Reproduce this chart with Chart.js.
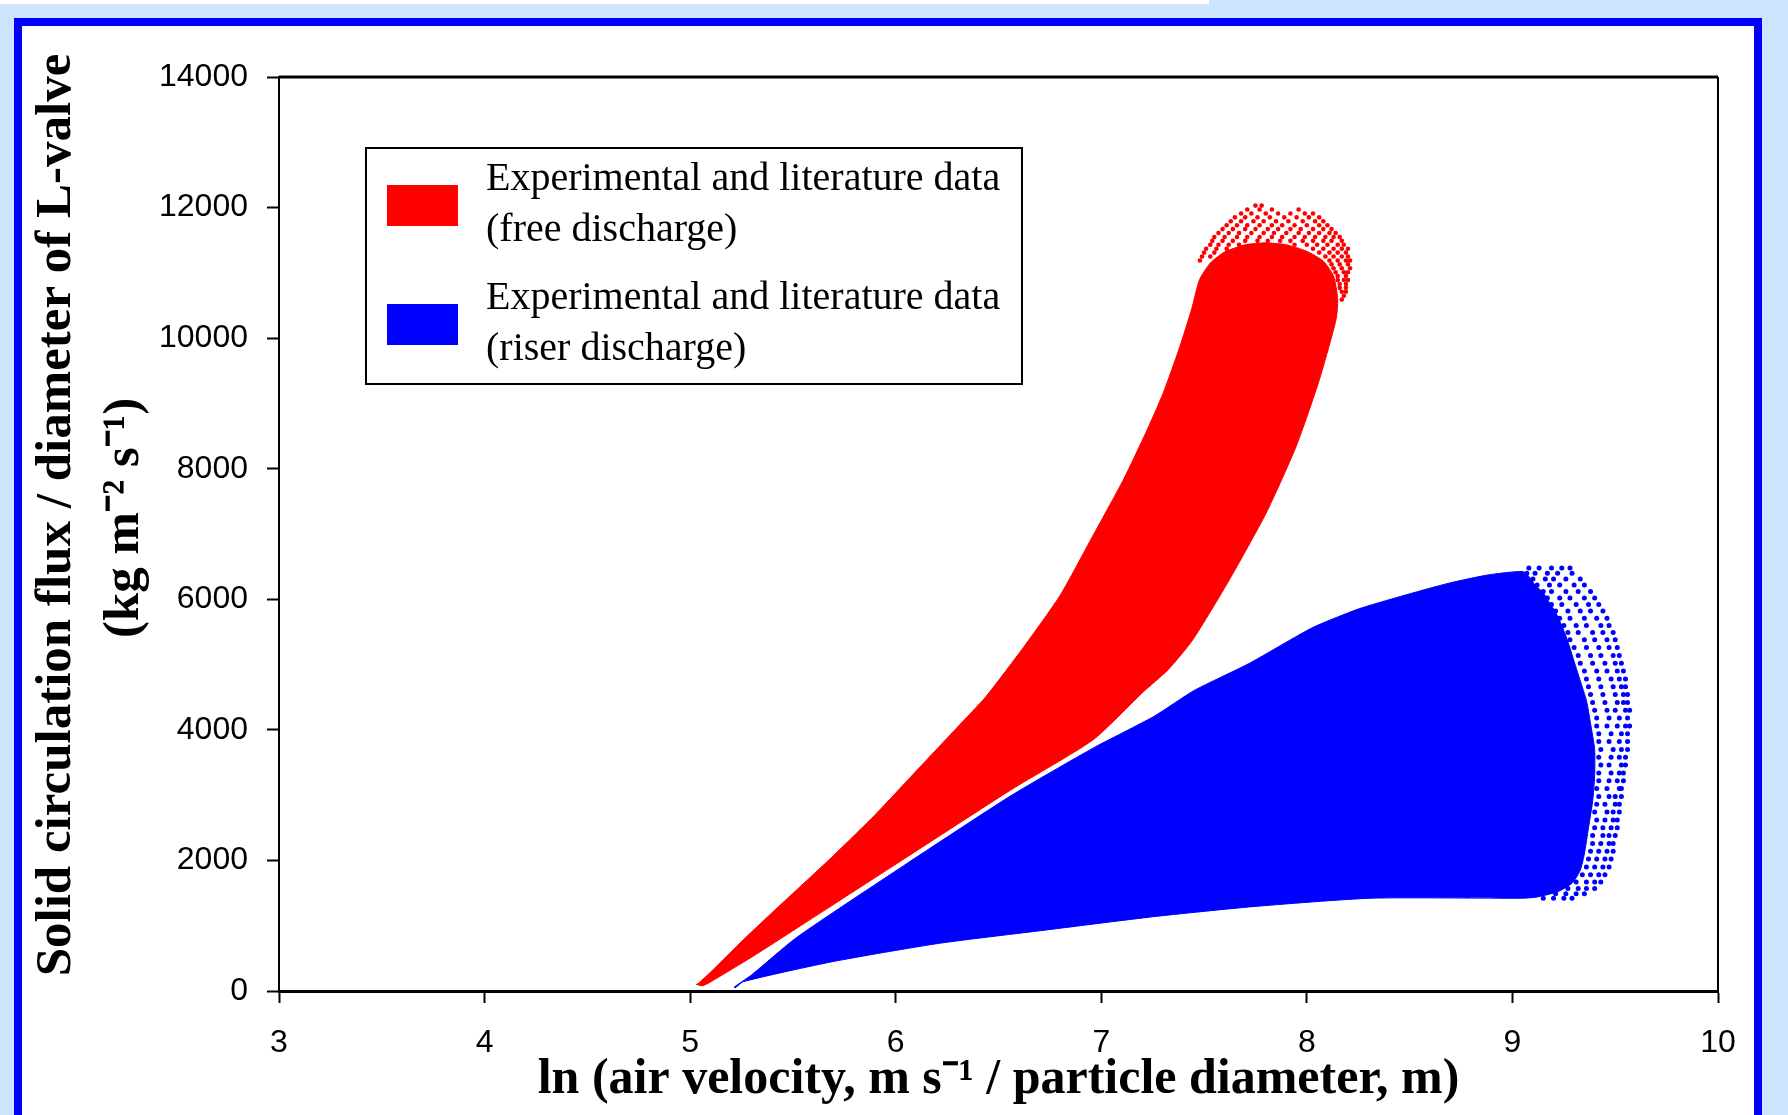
<!DOCTYPE html>
<html>
<head>
<meta charset="utf-8">
<script src="https://cdn.jsdelivr.net/npm/chart.js@4.4.1/dist/chart.umd.min.js"></script>
<style>
  html, body { margin: 0; padding: 0; width: 1788px; height: 1115px; overflow: hidden; background: #cce4fc; }
  #strip { position: absolute; left: 0; top: 0; width: 1209px; height: 4px; background: #fff; }
  #frame { position: absolute; left: 14px; top: 18px; width: 1732px; height: 1200px; background: #fff; border: 8px solid #0000ff; }
  #wrap { position: absolute; left: 0; top: 0; width: 1788px; height: 1115px; }
</style>
</head>
<body>
<div id="strip"></div>
<div id="frame"></div>
<div id="wrap"><canvas id="chart"></canvas></div>
<script>
// Outline of the dense free-discharge cloud (clockwise from the tip)
const freeX = [5.03, 5.04, 5.10, 5.258, 5.45, 5.692, 5.90, 6.109, 6.30, 6.439, 6.63, 6.80, 6.95, 7.109, 7.217, 7.30, 7.38, 7.44, 7.478,
               7.53, 7.60, 7.70, 7.80, 7.90, 8.00, 8.08, 8.13, 8.15, 8.142,
               8.061, 7.948, 7.802, 7.623, 7.445, 7.325, 7.20, 6.96, 6.56, 6.039, 5.518, 5.30, 5.101, 5.06, 5.03];
const freeY = [100, 117, 290, 782, 1350, 2058, 2700, 3400, 4040, 4510, 5300, 6060, 6920, 7840, 8553, 9150, 9850, 10450, 10897,
               11150, 11320, 11430, 11460, 11430, 11330, 11180, 10950, 10600, 10284,
               9364, 8342, 7321, 6299, 5379, 4920, 4570, 3847, 3080, 2020, 960, 520, 143, 80, 100];

// Fuzzy cap of the free-discharge cloud: [flux, [ln values]]
const freeSpeckRows = [
    [12030, [7.75, 7.78]],
    [11970, [7.71, 7.77, 7.83, 7.96]],
    [11910, [7.68, 7.73, 7.80, 7.86, 7.92, 7.99, 8.03]],
    [11850, [7.65, 7.70, 7.76, 7.82, 7.89, 7.95, 8.01, 8.06]],
    [11790, [7.63, 7.68, 7.74, 7.79, 7.85, 7.91, 7.98, 8.04, 8.08]],
    [11730, [7.61, 7.66, 7.71, 7.77, 7.83, 7.88, 7.94, 8.00, 8.06, 8.10]],
    [11670, [7.59, 7.64, 7.70, 7.75, 7.81, 7.86, 7.92, 7.97, 8.03, 8.08, 8.12]],
    [11610, [7.57, 7.62, 7.67, 7.73, 7.79, 7.84, 7.90, 7.96, 8.01, 8.06, 8.11, 8.14]],
    [11550, [7.55, 7.60, 7.66, 7.71, 7.77, 7.83, 7.88, 7.94, 7.99, 8.04, 8.09, 8.13, 8.16]],
    [11490, [7.54, 7.59, 7.64, 7.70, 7.76, 7.81, 7.87, 7.92, 7.98, 8.03, 8.08, 8.12, 8.17]],
    [11430, [7.53, 7.57, 7.62, 7.67, 7.94, 8.00, 8.05, 8.10, 8.15, 8.18]],
    [11370, [7.51, 7.56, 7.61, 8.03, 8.08, 8.13, 8.17, 8.20]],
    [11310, [7.50, 7.55, 8.06, 8.11, 8.15, 8.19]],
    [11250, [7.49, 7.53, 8.09, 8.13, 8.17, 8.20]],
    [11190, [7.48, 8.11, 8.15, 8.19, 8.21]],
    [11130, [8.12, 8.16, 8.20]],
    [11070, [8.13, 8.17, 8.21]],
    [11010, [8.14, 8.18, 8.20]],
    [10950, [8.15, 8.19]],
    [10890, [8.15, 8.18, 8.20]],
    [10830, [8.16, 8.19]],
    [10770, [8.16, 8.19]],
    [10710, [8.17, 8.19]],
    [10650, [8.18]],
    [10590, [8.17]]
];

// Outline of the dense riser-discharge cloud
const riserX = [5.214, 5.30, 5.518, 6.039, 6.56, 6.96, 7.255, 7.45, 7.721, 8.024, 8.25, 8.455, 8.693, 8.885, 9.05,
                9.08, 9.11, 9.15, 9.18, 9.21, 9.24, 9.27, 9.30, 9.33, 9.36, 9.38, 9.40, 9.40, 9.39, 9.37, 9.35, 9.33, 9.29, 9.22, 9.12, 9.05,
                8.311, 7.737, 7.255, 6.733, 6.213, 5.692, 5.258, 5.22, 5.214];
const riserY = [60, 250, 820, 1920, 2990, 3720, 4204, 4600, 5020, 5560, 5850, 6043, 6248, 6375, 6426,
                6350, 6220, 6100, 5950, 5800, 5600, 5350, 5050, 4750, 4450, 4100, 3700, 3300, 2900, 2500, 2100, 1850, 1650, 1520, 1440, 1421,
                1421, 1292, 1139, 935, 731, 449, 143, 50, 60];

// Fuzzy right side of the riser-discharge cloud: [flux, [ln values]]
const riserSpeckRows = [
    [6480, [9.08, 9.13, 9.19, 9.24, 9.28]],
    [6400, [9.07, 9.11, 9.17, 9.22, 9.29]],
    [6310, [9.10, 9.16, 9.20, 9.26, 9.33]],
    [6220, [9.12, 9.18, 9.23, 9.30, 9.35]],
    [6120, [9.15, 9.19, 9.26, 9.32, 9.38]],
    [6020, [9.17, 9.23, 9.28, 9.35, 9.40]],
    [5920, [9.19, 9.24, 9.31, 9.37, 9.42]],
    [5820, [9.21, 9.27, 9.33, 9.38, 9.44]],
    [5710, [9.23, 9.28, 9.35, 9.41, 9.46]],
    [5600, [9.25, 9.31, 9.36, 9.43, 9.47]],
    [5490, [9.27, 9.32, 9.39, 9.44, 9.49]],
    [5380, [9.28, 9.35, 9.40, 9.46, 9.50]],
    [5260, [9.30, 9.36, 9.42, 9.47, 9.51]],
    [5140, [9.32, 9.38, 9.43, 9.49, 9.52]],
    [5020, [9.33, 9.39, 9.45, 9.50, 9.53]],
    [4900, [9.35, 9.41, 9.46, 9.51, 9.54]],
    [4780, [9.36, 9.42, 9.48, 9.52, 9.55]],
    [4660, [9.37, 9.43, 9.49, 9.53, 9.55]],
    [4540, [9.38, 9.44, 9.50, 9.54, 9.56]],
    [4420, [9.39, 9.45, 9.51, 9.54, 9.56]],
    [4300, [9.40, 9.46, 9.50, 9.55, 9.57]],
    [4180, [9.41, 9.47, 9.52, 9.56]],
    [4060, [9.41, 9.46, 9.51, 9.55, 9.57]],
    [3940, [9.42, 9.48, 9.53, 9.56]],
    [3820, [9.42, 9.47, 9.52, 9.56]],
    [3700, [9.43, 9.49, 9.53, 9.56]],
    [3580, [9.42, 9.48, 9.52, 9.55]],
    [3460, [9.43, 9.47, 9.53, 9.55]],
    [3340, [9.42, 9.48, 9.52, 9.54]],
    [3220, [9.42, 9.47, 9.51, 9.54]],
    [3100, [9.41, 9.46, 9.52, 9.53]],
    [2980, [9.42, 9.47, 9.50, 9.53]],
    [2860, [9.41, 9.45, 9.50, 9.52]],
    [2740, [9.40, 9.46, 9.49, 9.52]],
    [2620, [9.41, 9.45, 9.49, 9.51]],
    [2500, [9.40, 9.44, 9.48, 9.51]],
    [2380, [9.39, 9.44, 9.47, 9.50]],
    [2260, [9.39, 9.43, 9.47, 9.49]],
    [2140, [9.38, 9.42, 9.46, 9.49]],
    [2020, [9.37, 9.41, 9.45, 9.48]],
    [1900, [9.36, 9.40, 9.44, 9.47]],
    [1780, [9.34, 9.38, 9.42, 9.45]],
    [1670, [9.31, 9.36, 9.40, 9.43]],
    [1570, [9.27, 9.32, 9.36, 9.40]],
    [1490, [9.21, 9.26, 9.31, 9.35]],
    [1420, [9.15, 9.20, 9.25, 9.29]]
];

const freeLabel = ['Experimental and literature data', '(free discharge)'];
const riserLabel = ['Experimental and literature data', '(riser discharge)'];

const xTitle = 'ln (air velocity, m s\u207B\u00B9 / particle diameter, m)';
const yTitle = ['Solid circulation flux / diameter of L-valve', '(kg m\u207B\u00B2 s\u207B\u00B9)'];

const toPoints = (xs, ys) => xs.map((x, i) => ({ x: x, y: ys[i] }));
const rowPoints = rows => rows.flatMap(([y, xs]) => xs.map(x => ({ x: x, y: y })));

// legend box drawn inside the plot
const boxLegend = {
    id: 'boxLegend',
    afterDraw(chart, args, opts) {
        const { ctx, chartArea } = chart;
        const x0 = chartArea.left + opts.left;
        const y0 = chartArea.top + opts.top;
        ctx.save();
        ctx.fillStyle = '#fff';
        ctx.fillRect(x0, y0, opts.width, opts.height);
        ctx.lineWidth = 2;
        ctx.strokeStyle = '#000';
        ctx.strokeRect(x0, y0, opts.width, opts.height);
        chart.data.datasets.filter(d => d.inLegend).forEach((d, i) => {
            const row = y0 + opts.firstLine + i * opts.rowGap;
            ctx.fillStyle = d.backgroundColor;
            ctx.fillRect(x0 + opts.swatchX, row + opts.swatchY, opts.swatchW, opts.swatchH);
            ctx.fillStyle = '#000';
            ctx.font = opts.font;
            ctx.textBaseline = 'middle';
            d.label.forEach((line, j) => ctx.fillText(line, x0 + opts.textX, row + j * opts.lineGap));
        });
        ctx.restore();
    }
};

// two-line rotated title for the y axis
const yAxisTitle = {
    id: 'yAxisTitle',
    afterDraw(chart, args, opts) {
        const { ctx } = chart;
        ctx.save();
        ctx.font = opts.font;
        ctx.fillStyle = '#000';
        ctx.textAlign = 'center';
        ctx.textBaseline = 'middle';
        opts.lines.forEach((line, i) => {
            ctx.save();
            ctx.translate(opts.x[i], opts.y[i]);
            ctx.rotate(-Math.PI / 2);
            ctx.fillText(line, 0, 0);
            ctx.restore();
        });
        ctx.restore();
    }
};

// top and right edges of the plot box
const plotBox = {
    id: 'plotBox',
    afterDraw(chart) {
        const { ctx, chartArea } = chart;
        ctx.save();
        ctx.strokeStyle = '#000';
        ctx.lineWidth = 3;
        ctx.beginPath();
        ctx.moveTo(chartArea.left, chartArea.top);
        ctx.lineTo(chartArea.right, chartArea.top);
        ctx.stroke();
        ctx.lineWidth = 2;
        ctx.beginPath();
        ctx.moveTo(chartArea.right, chartArea.top);
        ctx.lineTo(chartArea.right, chartArea.bottom);
        ctx.stroke();
        ctx.restore();
    }
};

new Chart(document.getElementById('chart'), {
    type: 'scatter',
    data: {
        datasets: [
            {
                label: freeLabel,
                inLegend: true,
                data: toPoints(freeX, freeY),
                showLine: true,
                tension: 0.2,
                fill: 'shape',
                borderColor: '#ff0000',
                backgroundColor: '#ff0000',
                borderWidth: 1,
                pointRadius: 0
            },
            {
                label: riserLabel,
                inLegend: true,
                data: toPoints(riserX, riserY),
                showLine: true,
                tension: 0.2,
                fill: 'shape',
                borderColor: '#0000ff',
                backgroundColor: '#0000ff',
                borderWidth: 1,
                pointRadius: 0
            },
            {
                label: 'free speckle',
                data: rowPoints(freeSpeckRows),
                backgroundColor: '#ff0000',
                borderWidth: 0,
                pointRadius: 2.3
            },
            {
                label: 'riser speckle',
                data: rowPoints(riserSpeckRows),
                backgroundColor: '#0000ff',
                borderWidth: 0,
                pointRadius: 2.5
            }
        ]
    },
    options: {
        responsive: true,
        maintainAspectRatio: false,
        animation: false,
        layout: { padding: { top: 77, right: 70, left: 0, bottom: 0 } },
        plugins: {
            legend: { display: false },
            tooltip: { enabled: false },
            boxLegend: {
                left: 87, top: 71, width: 656, height: 236,
                firstLine: 31, lineGap: 51, rowGap: 119,
                swatchX: 21, swatchY: 6, swatchW: 71, swatchH: 41,
                textX: 120,
                font: '40px "Liberation Serif", "Times New Roman", serif'
            },
            yAxisTitle: {
                lines: yTitle,
                x: [57, 125],
                y: [515, 518],
                font: 'bold 51px "Liberation Serif", "Times New Roman", serif'
            }
        },
        scales: {
            x: {
                type: 'linear',
                min: 3,
                max: 10,
                afterFit: s => { s.height = 124; },
                ticks: { stepSize: 1, color: '#000', padding: 21, font: { family: 'Liberation Sans', size: 32 } },
                grid: { drawOnChartArea: false, drawTicks: true, tickLength: 12, tickWidth: 2, tickColor: '#000' },
                border: { display: true, color: '#000', width: 3 },
                title: {
                    display: true,
                    text: xTitle,
                    color: '#000',
                    padding: { top: 0, bottom: 5 },
                    font: { family: 'Liberation Serif', weight: 'bold', size: 50, lineHeight: 1.2 }
                }
            },
            y: {
                type: 'linear',
                min: 0,
                max: 14000,
                afterFit: s => { s.width = 279; },
                ticks: { stepSize: 2000, color: '#000', padding: 19, format: { useGrouping: false }, font: { family: 'Liberation Sans', size: 32 } },
                grid: { drawOnChartArea: false, drawTicks: true, tickLength: 12, tickWidth: 2, tickColor: '#000' },
                border: { display: true, color: '#000', width: 2 },
                title: { display: false }
            }
        }
    },
    plugins: [boxLegend, yAxisTitle, plotBox]
});
</script>
</body>
</html>
